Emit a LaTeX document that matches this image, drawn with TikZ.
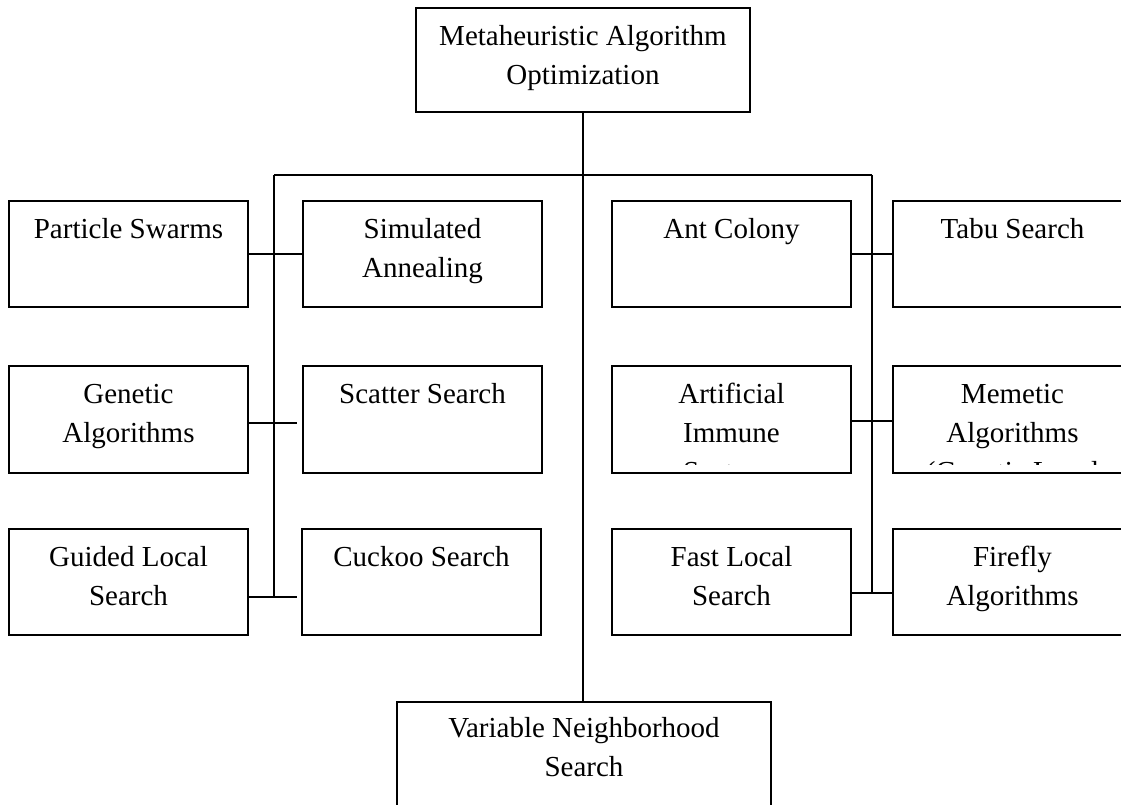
\documentclass[tikz,border=0pt]{standalone}
\usepackage{fontspec}
\setmainfont{Liberation Serif}
\begin{document}
\begin{tikzpicture}[x=1pt,y=-1pt,
  box/.style={draw, line width=1.8pt, minimum width=239pt, minimum height=106pt, inner sep=0pt},
  lbl/.style={anchor=north, inner sep=0pt, align=center, font=\fontsize{29}{39}\selectfont},
  conn/.style={line width=1.5pt}]
\clip (0,0) rectangle (1121,805);
% boxes
\node[box, minimum width=334pt, minimum height=104pt] (top) at (583,60) {};
\node[box] (ps) at (128.5,254) {};
\node[box] (sa) at (422.5,254) {};
\node[box] (ac) at (731.5,254) {};
\node[box] (tb) at (1012.5,254) {};
\node[box, minimum height=107pt] (ga) at (128.5,419.5) {};
\node[box, minimum height=107pt] (ss) at (422.5,419.5) {};
\node[box, minimum height=107pt] (ai) at (731.5,419.5) {};
\node[box, minimum height=107pt] (mm) at (1012.5,419.5) {};
\node[box] (gl) at (128.5,582) {};
\node[box] (cs) at (421.5,582) {};
\node[box] (fl) at (731.5,582) {};
\node[box] (ff) at (1012.5,582) {};
\node[box, minimum width=374pt, minimum height=108pt] (bot) at (584,756) {};
% texts
\node[lbl] (top-t) at ([yshift=-11pt]top.north) {\strut Metaheuristic Algorithm\\\strut Optimization};
\node[lbl] (ps-t) at ([yshift=-11pt]ps.north) {\strut Particle Swarms};
\node[lbl] (sa-t) at ([yshift=-11pt]sa.north) {\strut Simulated\\\strut Annealing};
\node[lbl] (ac-t) at ([yshift=-11pt]ac.north) {\strut Ant Colony};
\node[lbl] (tb-t) at ([yshift=-11pt]tb.north) {\strut Tabu Search};
\node[lbl] (ga-t) at ([yshift=-11pt]ga.north) {\strut Genetic\\\strut Algorithms};
\node[lbl] (ss-t) at ([yshift=-11pt]ss.north) {\strut Scatter Search};
\begin{scope}
\clip ([yshift=9.5pt]ai.south west) rectangle (ai.north east);
\node[lbl] (ai-t) at ([yshift=-11pt]ai.north) {\strut Artificial\\\strut Immune\\\strut Systems};
\end{scope}
\begin{scope}
\clip ([yshift=9.5pt]mm.south west) rectangle (mm.north east);
\node[lbl] (mm-t) at ([yshift=-11pt]mm.north) {\strut Memetic\\\strut Algorithms\\\strut (Genetic Local};
\end{scope}
\node[lbl] (gl-t) at ([yshift=-11pt]gl.north) {\strut Guided Local\\\strut Search};
\node[lbl] (cs-t) at ([yshift=-11pt]cs.north) {\strut Cuckoo Search};
\node[lbl] (fl-t) at ([yshift=-11pt]fl.north) {\strut Fast Local\\\strut Search};
\node[lbl] (ff-t) at ([yshift=-11pt]ff.north) {\strut Firefly\\\strut Algorithms};
\node[lbl] (bot-t) at ([yshift=-9pt]bot.north) {\strut Variable Neighborhood\\\strut Search};
% connectors
\coordinate (jl) at (274,175);
\coordinate (jr) at (872,175);
\coordinate (l2) at (297,423);
\coordinate (l3) at (297,597);
\coordinate (r2) at (872,421);
\coordinate (r3) at (872,593);
\draw[conn] (top.south) -- (top.south |- bot.north);
\draw[conn] (jl) -- (jr);
\draw[conn] (jl) -- (jl |- l3);
\draw[conn] (jr) -- (r3);
\draw[conn] (ps.east) -- (sa.west);
\draw[conn] (ga.east |- l2) -- (l2);
\draw[conn] (gl.east |- l3) -- (l3);
\draw[conn] (ac.east) -- (tb.west);
\draw[conn] (ai.east |- r2) -- (mm.west |- r2);
\draw[conn] (fl.east |- r3) -- (ff.west |- r3);
\end{tikzpicture}
\end{document}
